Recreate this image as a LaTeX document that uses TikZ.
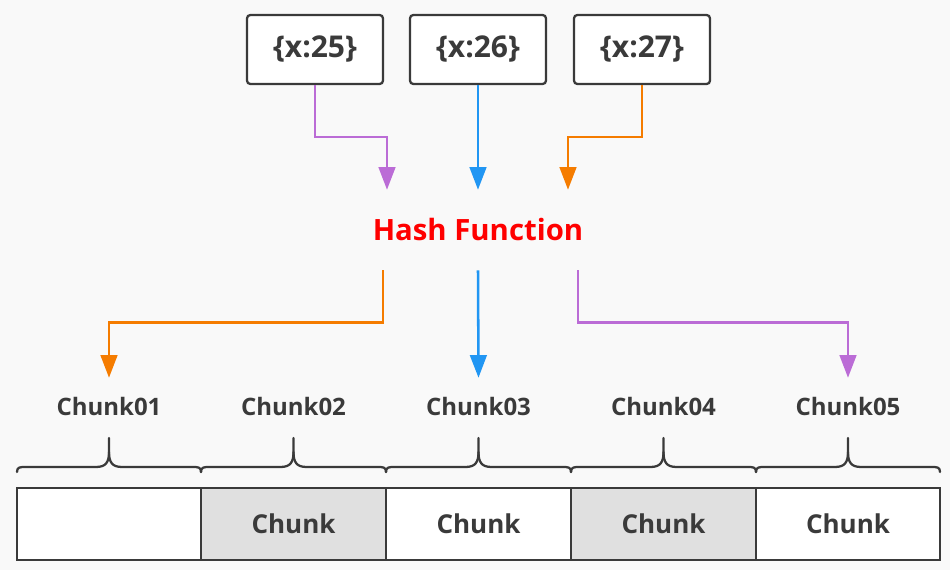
\documentclass[tikz,border=0pt]{standalone}
\usepackage{fontspec}
\setmainfont{Open Sans}
\usetikzlibrary{arrows.meta}
\definecolor{bg}{RGB}{249,249,249}
\definecolor{ink}{RGB}{58,58,58}
\definecolor{cpurple}{RGB}{187,108,214}
\definecolor{cblue}{RGB}{33,150,243}
\definecolor{corange}{RGB}{245,124,0}
\definecolor{cgray}{RGB}{224,224,224}
\definecolor{hred}{RGB}{255,0,0}
\tikzset{
  keybox/.style={draw=ink, line width=1.7pt, fill=white, rounded corners=2.5pt,
    minimum width=102pt, minimum height=51.75pt, inner sep=0pt,
    font=\fontsize{22.5}{26}\selectfont\bfseries, text=ink},
  hashnode/.style={minimum height=60pt, inner sep=0pt,
    font=\fontsize{22}{26}\selectfont\bfseries, text=hred},
  chunklabel/.style={minimum height=43.5pt, inner sep=0pt,
    font=\fontsize{18}{21}\selectfont\bfseries, text=ink},
  cell/.style={draw=ink, line width=1.7pt, minimum width=138.5pt, minimum height=54pt,
    inner sep=0pt, font=\fontsize{19.5}{23}\selectfont\bfseries, text=ink},
  conn/.style={line width=1.9pt, -{Triangle[width=12.5pt,length=17pt]}},
  bracestyle/.style={draw=ink, line width=1.7pt},
}
\begin{document}
\begin{tikzpicture}[x=0.75pt,y=-0.75pt]
\fill[bg] (0,0) rectangle (950,570);
\useasboundingbox (0,0) rectangle (950,570);

% key boxes
\node[keybox] (k1) at (315,49.5) {\{x:25\}};
\node[keybox] (k2) at (478,49.5) {\{x:26\}};
\node[keybox] (k3) at (642,49.5) {\{x:27\}};

% hash function
\node[hashnode] (h) at (478,230) {Hash Function};

% chunk labels
\node[chunklabel] (l1) at (109,407) {Chunk01};
\node[chunklabel] (l2) at (293.5,407) {Chunk02};
\node[chunklabel] (l3) at (478.5,407) {Chunk03};
\node[chunklabel] (l4) at (663.5,407) {Chunk04};
\node[chunklabel] (l5) at (848,407) {Chunk05};

% cells
\node[cell, fill=white] (c1) at (109,524) {};
\node[cell, fill=cgray] (c2) at (293.5,524) {Chunk};
\node[cell, fill=white] (c3) at (478.5,524) {Chunk};
\node[cell, fill=cgray] (c4) at (663.5,524) {Chunk};
\node[cell, fill=white] (c5) at (848,524) {Chunk};

% braces
\foreach \a/\b in {17/201, 201/386, 386/571, 571/756, 756/940}{
  \pgfmathsetmacro{\c}{(\a+\b)/2}
  \draw[bracestyle, line cap=round, line join=round]
    (\a,472) .. controls (\a,467) and (\a+3,467) .. (\a+9,467)
    -- (\c-13,467) .. controls (\c-3,467) and (\c,462) .. (\c,452) -- (\c,438);
  \draw[bracestyle, line cap=round, line join=round]
    (\c,452) .. controls (\c,462) and (\c+3,467) .. (\c+13,467)
    -- (\b-9,467) .. controls (\b-3,467) and (\b,467) .. (\b,472);
}

% top connectors
\draw[conn, cpurple] (k1.south) -- ++(0,52) -| ([xshift=-68.25pt]h.north);
\draw[conn, cblue] (k2.south) -- (h.north);
\draw[conn, corange] (k3.south) -- ++(0,52) -| ([xshift=67.5pt]h.north);

% bottom connectors
\draw[conn, corange] ([xshift=-71.25pt]h.south) -- ++(0,52) -| (l1.north);
\draw[conn, cblue] (h.south) -- (l3.north);
\draw[conn, cpurple] ([xshift=75pt]h.south) -- ++(0,52) -| (l5.north);
\end{tikzpicture}
\end{document}
